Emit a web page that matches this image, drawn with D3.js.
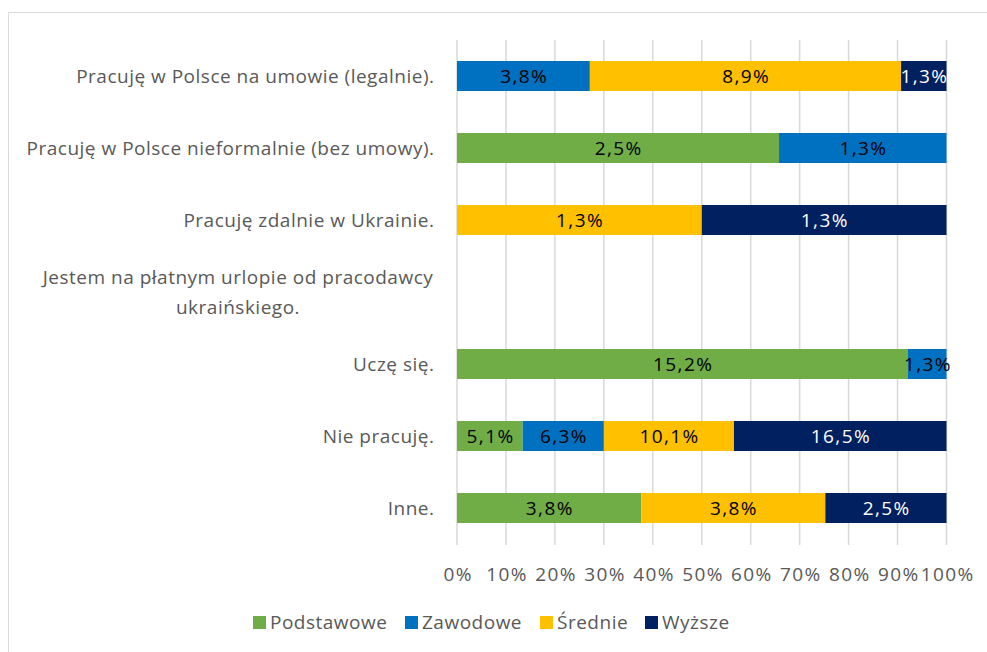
<!DOCTYPE html>
<html>
<head>
<meta charset="utf-8">
<script src="https://cdn.jsdelivr.net/npm/d3@7"></script>
<style>
  html, body { margin: 0; padding: 0; background: #fff; }
  svg { display: block; }
  text { font-family: "Open Sans", sans-serif; }
</style>
</head>
<body>
<svg id="chart" width="987" height="652"></svg>
<script>
// Row labels (top to bottom); "\n" marks a manual line break
const categories = [
  "Pracuję w Polsce na umowie (legalnie).",
  "Pracuję w Polsce nieformalnie (bez umowy).",
  "Pracuję zdalnie w Ukrainie.",
  "Jestem na płatnym urlopie od pracodawcy\nukraińskiego.",
  "Uczę się.",
  "Nie pracuję.",
  "Inne."
];

// Share of respondents (%) per education level, one entry per row
const podstawowe = [null, 2.5, null, null, 15.2, 5.1, 3.8];
const zawodowe   = [3.8, 1.3, null, null, 1.3, 6.3, null];
const srednie    = [8.9, null, 1.3, null, null, 10.1, 3.8];
const wyzsze     = [1.3, null, 1.3, null, null, 16.5, 2.5];

const seriesNames = ["Podstawowe", "Zawodowe", "Średnie", "Wyższe"];
const seriesColors = ["#70AD47", "#0070C0", "#FFC000", "#002060"];
const labelColors = ["#000000", "#000000", "#000000", "#FFFFFF"];

const tickValues = [0, 0.1, 0.2, 0.3, 0.4, 0.5, 0.6, 0.7, 0.8, 0.9, 1];

const FONT = 19;
const TEXT_SPACING = 0.5;
const NUM_SPACING = 1.4;

const seriesValues = [podstawowe, zawodowe, srednie, wyzsze];
const rows = categories.map((c, i) => {
  const r = { category: c };
  seriesNames.forEach((s, k) => { r[s] = seriesValues[k][i] || 0; });
  return r;
});

const stacked = d3.stack()
  .keys(seriesNames)
  .offset(d3.stackOffsetExpand)(rows);

const svg = d3.select("#chart");

// chart frame
svg.append("rect")
  .attr("x", 8.5).attr("y", 12.5)
  .attr("width", 1000).attr("height", 700)
  .attr("fill", "none")
  .attr("stroke", "#d9d9d9")
  .attr("stroke-width", 1);

const x = d3.scaleLinear().domain([0, 1]).range([457, 946.5]);
const y = d3.scaleBand()
  .domain(categories)
  .range([40, 544])
  .paddingInner(0.583)
  .paddingOuter(0.2915);

// vertical gridlines
svg.append("g")
  .selectAll("line")
  .data(tickValues)
  .join("line")
  .attr("x1", d => x(d)).attr("x2", d => x(d))
  .attr("y1", 40).attr("y2", 545)
  .attr("stroke", "#d9d9d9")
  .attr("stroke-width", 1.5);

// stacked segments
const layer = svg.append("g")
  .selectAll("g")
  .data(stacked)
  .join("g")
  .attr("fill", (d, i) => seriesColors[i]);

layer.selectAll("rect")
  .data(d => d.filter(p => p[1] - p[0] > 0))
  .join("rect")
  .attr("x", d => x(d[0]))
  .attr("y", d => y(d.data.category))
  .attr("width", d => x(d[1]) - x(d[0]))
  .attr("height", y.bandwidth());

// value labels inside segments
const fmt = v => v.toFixed(1).replace(".", ",") + "%";
stacked.forEach((s, k) => {
  svg.append("g")
    .selectAll("text")
    .data(s.filter(p => p[1] - p[0] > 0))
    .join("text")
    .attr("x", d => (x(d[0]) + x(d[1])) / 2 + NUM_SPACING / 2)
    .attr("y", d => y(d.data.category) + y.bandwidth() / 2)
    .attr("dy", "0.36em")
    .attr("text-anchor", "middle")
    .attr("font-size", FONT)
    .attr("letter-spacing", NUM_SPACING)
    .attr("fill", labelColors[k])
    .text(d => fmt(d.data[s.key]));
});

// category labels
const catG = svg.append("g");
categories.forEach(c => {
  const lines = c.split("\n");
  const cy = y(c) + y.bandwidth() / 2;
  const lh = 30;
  const multi = lines.length > 1;
  const t = catG.append("text")
    .attr("font-size", FONT)
    .attr("letter-spacing", TEXT_SPACING)
    .attr("fill", "#595959")
    .attr("text-anchor", multi ? "middle" : "end");
  const tx = multi ? 238 : 434 + TEXT_SPACING;
  lines.forEach((ln, i) => {
    t.append("tspan")
      .attr("x", tx)
      .attr("y", cy + (i - (lines.length - 1) / 2) * lh)
      .attr("dy", "0.36em")
      .text(ln);
  });
});

// x axis tick labels
const axis = svg.append("g")
  .attr("transform", "translate(0,574)")
  .call(d3.axisBottom(x).tickValues(tickValues).tickFormat(d3.format(".0%")).tickSize(0).tickPadding(0));
axis.select(".domain").remove();
axis.selectAll("text")
  .attr("font-family", "'Open Sans', sans-serif")
  .attr("font-size", FONT)
  .attr("letter-spacing", NUM_SPACING)
  .attr("fill", "#595959")
  .attr("dy", "0.36em")
  .attr("x", NUM_SPACING / 2)
  .attr("y", 0);

// legend
const legendX = [253, 405, 540, 645];
const legend = svg.append("g");
seriesNames.forEach((s, i) => {
  const g = legend.append("g").attr("transform", `translate(${legendX[i]},622.5)`);
  g.append("rect")
    .attr("x", 0).attr("y", -6.5)
    .attr("width", 13).attr("height", 13)
    .attr("fill", seriesColors[i]);
  g.append("text")
    .attr("x", 17).attr("y", 0)
    .attr("dy", "0.36em")
    .attr("font-size", FONT)
    .attr("letter-spacing", TEXT_SPACING)
    .attr("fill", "#595959")
    .text(s);
});
</script>
</body>
</html>
